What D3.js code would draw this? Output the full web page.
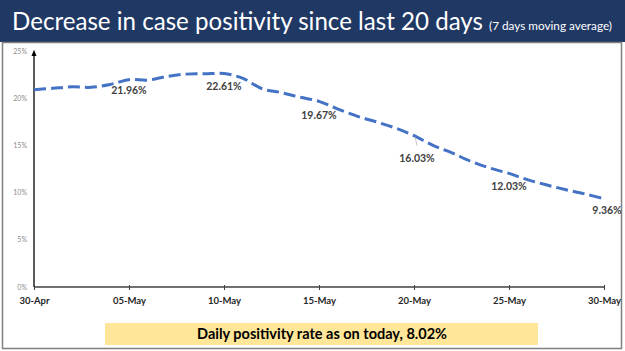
<!DOCTYPE html>
<html><head><meta charset="utf-8">
<script src="https://cdn.jsdelivr.net/npm/d3@7"></script>
<style>html,body{margin:0;padding:0;background:#fff;}svg{display:block;}</style>
</head><body>
<script>
const dates = ["30-Apr","01-May","02-May","03-May","04-May","05-May","06-May","07-May","08-May","09-May","10-May","11-May","12-May","13-May","14-May","15-May","16-May","17-May","18-May","19-May","20-May","21-May","22-May","23-May","24-May","25-May","26-May","27-May","28-May","29-May","30-May"];
const positivity = [20.9,21.05,21.2,21.15,21.45,21.96,21.92,22.3,22.55,22.58,22.61,22.1,21.0,20.6,20.1,19.67,18.85,18.1,17.5,16.85,16.03,15.0,14.2,13.3,12.6,12.03,11.35,10.8,10.3,9.85,9.36];
const xTickLabels = ["30-Apr","05-May","10-May","15-May","20-May","25-May","30-May"];
const yTicks = [0,5,10,15,20,25];
const labelledDates = ["05-May","10-May","15-May","20-May","25-May","30-May"];
const titleText = "Decrease in case positivity since last 20 days";
const subtitleText = "(7 days moving average)";
const footerText = "Daily positivity rate as on today, 8.02%";

const W = 625, H = 351;
const svg = d3.select("body").append("svg").attr("width", W).attr("height", H);

// banner
svg.append("rect").attr("x",0).attr("y",0).attr("width",W).attr("height",42).attr("fill","#203864");
svg.append("text").attr("x",12).attr("y",30).attr("fill","#fff")
  .style("font-family","Lato, 'Open Sans', sans-serif").attr("font-size",25)
  .attr("textLength",471).attr("lengthAdjust","spacingAndGlyphs").text(titleText);
svg.append("text").attr("x",489).attr("y",30).attr("fill","#fff")
  .style("font-family","Lato, 'Open Sans', sans-serif").attr("font-size",11)
  .attr("textLength",123).attr("lengthAdjust","spacingAndGlyphs").text(subtitleText);

// panel
svg.append("rect").attr("x",2.5).attr("y",42.5).attr("width",619).attr("height",306)
  .attr("fill","#fff").attr("stroke","#7f7f7f").attr("stroke-width",1.5);

const x = d3.scalePoint().domain(dates).range([34, 604]);
const y = d3.scaleLinear().domain([0,25]).range([287, 51]);

// y axis labels
svg.append("g").selectAll("text").data(yTicks).join("text")
  .attr("x",27).attr("y",d=>y(d)+2.5).attr("text-anchor","end")
  .attr("font-size",7).attr("fill","#8c8c8c").style("font-family","Lato, sans-serif")
  .text(d=>d+"%");

// y axis line with arrow
svg.append("defs").append("marker").attr("id","arr").attr("viewBox","0 0 10 10")
  .attr("refX",5).attr("refY",5).attr("markerWidth",5).attr("markerHeight",6).attr("orient","auto")
  .append("path").attr("d","M0,1 L10,5 L0,9 Z").attr("fill","#000");
svg.append("line").attr("x1",34).attr("x2",34).attr("y1",y(0)).attr("y2",y(25)+2)
  .attr("stroke","#000").attr("stroke-width",1.3).attr("marker-end","url(#arr)");

// x axis
const xAxis = d3.axisBottom(x).tickValues(xTickLabels).tickSize(4).tickPadding(6);
const gx = svg.append("g").attr("transform",`translate(0,${y(0)})`).call(xAxis);
gx.select(".domain").attr("stroke","#404040").attr("stroke-width",1.3).attr("d",`M34,0H604`);
gx.selectAll(".tick line").attr("stroke","#404040").attr("y1",-2).attr("y2",3);
gx.selectAll(".tick text").attr("font-size",9.5).attr("font-weight","bold").attr("fill","#262626")
  .style("font-family","Lato, sans-serif");

// line
const line = d3.line().x((d,i)=>x(dates[i])).y(d=>y(d)).curve(d3.curveCatmullRom.alpha(0.5));
svg.append("path").datum(positivity).attr("d",line).attr("fill","none")
  .attr("stroke","#4472c4").attr("stroke-width",3).attr("stroke-dasharray","12,5");

// data labels
const labelOffsets = {"05-May":[0,14],"10-May":[0,16],"15-May":[0,18],"20-May":[3,26],"25-May":[0,17],"30-May":[3,15]};
const lab = svg.append("g");
labelledDates.forEach(dn=>{
  const i = dates.indexOf(dn);
  const [dx,dy] = labelOffsets[dn];
  const px = x(dn), py = y(positivity[i]);
  if (dn==="20-May") {
    lab.append("line").attr("x1",px+1).attr("y1",py+1).attr("x2",px+3).attr("y2",py+10)
      .attr("stroke","#a6a6a6").attr("stroke-width",0.7);
  }
  lab.append("text").attr("x",px+dx).attr("y",py+dy).attr("text-anchor","middle")
    .attr("font-size",10.5).attr("font-weight","bold").attr("fill","#404040")
    .style("font-family","Lato, sans-serif").text(positivity[i].toFixed(2)+"%");
});

// footer box
svg.append("rect").attr("x",105).attr("y",323).attr("width",433).attr("height",22).attr("fill","#ffe699");
svg.append("text").attr("x",322).attr("y",339).attr("text-anchor","middle")
  .attr("font-size",14.5).attr("font-weight","bold").attr("fill","#000")
  .style("font-family","Lato, sans-serif").text(footerText);
</script>
</body></html>
